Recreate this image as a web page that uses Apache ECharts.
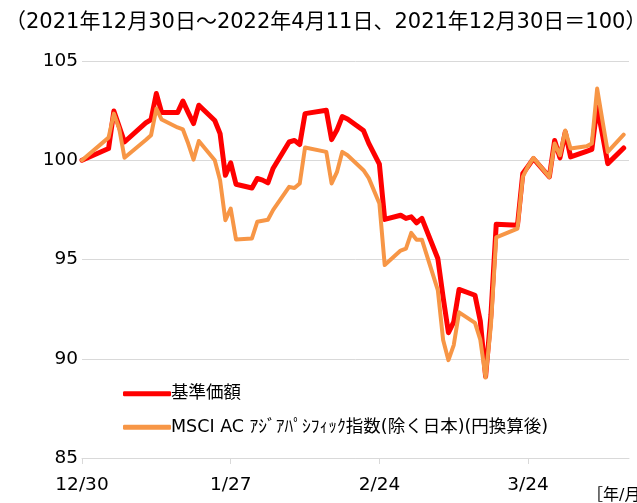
<!DOCTYPE html>
<html>
<head>
<meta charset="utf-8">
<script src="https://cdn.jsdelivr.net/npm/echarts@6/dist/echarts.min.js"></script>
<style>
html,body{margin:0;padding:0;background:#fff;}
#chart{width:637px;height:503px;}
</style>
</head>
<body>
<div id="chart"></div>
<script>
// ---- data ----
var dates = [
 '2021-12-30',
 '2022-01-04','2022-01-05','2022-01-06','2022-01-07',
 '2022-01-11','2022-01-12','2022-01-13','2022-01-14',
 '2022-01-17','2022-01-18','2022-01-19','2022-01-20','2022-01-21',
 '2022-01-24','2022-01-25','2022-01-26','2022-01-27','2022-01-28',
 '2022-01-31','2022-02-01','2022-02-02','2022-02-03','2022-02-04',
 '2022-02-07','2022-02-08','2022-02-09','2022-02-10',
 '2022-02-14','2022-02-15','2022-02-16','2022-02-17','2022-02-18',
 '2022-02-21','2022-02-22','2022-02-24','2022-02-25',
 '2022-02-28','2022-03-01','2022-03-02','2022-03-03','2022-03-04',
 '2022-03-07','2022-03-08','2022-03-09','2022-03-10','2022-03-11',
 '2022-03-14','2022-03-15','2022-03-16','2022-03-17','2022-03-18',
 '2022-03-22','2022-03-23','2022-03-24','2022-03-25',
 '2022-03-28','2022-03-29','2022-03-30','2022-03-31','2022-04-01',
 '2022-04-04','2022-04-05','2022-04-06','2022-04-07','2022-04-08',
 '2022-04-11'
];
var navValues = [
 100,
 100.59,102.48,101.7,100.92,
 101.88,102.05,103.36,102.4,
 102.4,102.98,102.4,101.85,102.77,
 102.0,101.34,99.24,99.87,98.79,
 98.6,99.08,99.0,98.86,99.6,
 100.92,101.0,100.79,102.35,
 102.52,101.04,101.52,102.2,102.08,
 101.5,100.85,99.8,97.02,
 97.23,97.07,97.15,96.85,97.07,
 95.05,93.1,91.31,91.86,93.49,
 93.2,91.9,89.1,92.2,96.78,
 96.73,99.33,99.7,100.08,
 99.16,101.0,100.12,101.42,100.17,
 100.45,100.55,102.68,101.3,99.83,
 100.62
];
var indexValues = [
 100,
 101.14,102.35,101.6,100.13,
 101.02,101.26,102.6,102.05,
 101.65,101.55,100.84,100.03,100.97,
 100.0,98.99,96.98,97.57,96.01,
 96.06,96.9,96.95,97.0,97.5,
 98.66,98.6,98.83,100.64,
 100.42,98.83,99.4,100.42,100.25,
 99.5,99.1,97.82,94.72,
 95.45,95.55,96.34,96.0,96.0,
 93.46,90.94,89.93,90.69,92.34,
 91.81,90.96,89.05,91.7,96.11,
 96.56,99.16,99.7,100.12,
 99.16,100.84,100.25,101.5,100.59,
 100.7,100.84,103.61,102.0,100.42,
 101.29
];
var seriesNames = ['基準価額', 'MSCI AC ｱｼﾞｱﾊﾟｼﾌｨｯｸ指数(除く日本)(円換算後)'];
var axisStart = '2021-12-30';
var axisEnd = '2022-04-12';
var tickStepDays = 28;
var yTicks = [85, 90, 95, 100, 105];
var titleText = '（2021年12月30日～2022年4月11日、2021年12月30日＝100）';
var unitText = '［年/月］';

// ---- helpers ----
var DAY = 86400000;
function utc(s){ var p = s.split('-'); return Date.UTC(+p[0], +p[1]-1, +p[2]); }
var t0 = utc(axisStart);
function dayOffset(s){ return Math.round((utc(s) - t0) / DAY); }
function pairs(vals){ return dates.map(function(d,i){ return [dayOffset(d), vals[i]]; }); }
function offsetLabel(v){ var d = new Date(t0 + v * DAY); return (d.getUTCMonth()+1) + '/' + d.getUTCDate(); }

var FONT = "'DejaVu Sans', 'Noto Sans CJK JP', sans-serif";
var chart = echarts.init(document.getElementById('chart'), null, {renderer:'canvas'});
chart.setOption({
  animation: false,
  backgroundColor: '#ffffff',
  grid: { left: 82, right: 8, top: 61, bottom: 45, containLabel: false },
  graphic: [
    { type: 'text', left: 5, top: 12, style: { text: titleText, font: "21px " + FONT, fill: '#000' } },
    { type: 'text', left: 587, top: 488, style: { text: unitText, font: "16px " + FONT, fill: '#000' } }
  ],
  legend: {
    orient: 'vertical', left: 118, top: 380, itemGap: 16,
    itemWidth: 48, itemHeight: 5, icon: 'roundRect',
    textStyle: { fontFamily: FONT, fontSize: 17.5, color: '#000', padding: [0,0,0,-5] },
    data: seriesNames
  },
  xAxis: {
    type: 'value',
    min: 0, max: dayOffset(axisEnd), interval: tickStepDays,
    axisLine: { show: true, lineStyle: { color: '#d9d9d9', width: 1 } },
    axisTick: { show: true, length: 6, lineStyle: { color: '#d9d9d9' } },
    axisLabel: {
      margin: 18, showMaxLabel: false,
      fontFamily: FONT, fontSize: 18.5, color: '#000',
      formatter: offsetLabel
    },
    splitLine: { show: false }
  },
  yAxis: {
    type: 'value', min: yTicks[0], max: yTicks[yTicks.length-1], interval: 5,
    axisLine: { show: false }, axisTick: { show: false },
    axisLabel: { fontFamily: FONT, fontSize: 18.5, color: '#000', margin: 4 },
    splitLine: { lineStyle: { color: '#d9d9d9', width: 1 } }
  },
  series: [
    { name: seriesNames[0], type: 'line', data: pairs(navValues), showSymbol: false,
      color: '#ff0000', lineStyle: { width: 5, color: '#ff0000', cap: 'round', join: 'round' }, z: 2 },
    { name: seriesNames[1], type: 'line', data: pairs(indexValues), showSymbol: false,
      color: '#f79646', lineStyle: { width: 4, color: '#f79646', cap: 'round', join: 'round' }, z: 3 }
  ]
});
</script>
</body>
</html>
